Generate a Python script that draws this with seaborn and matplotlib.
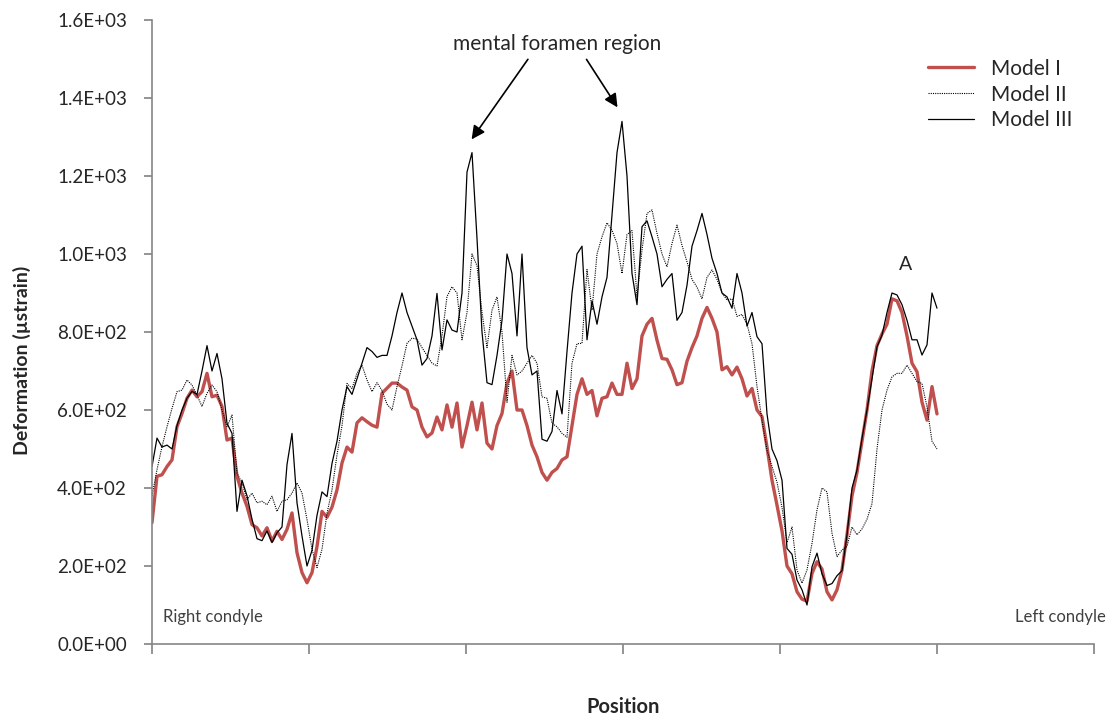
import numpy as np
import pandas as pd
import matplotlib
matplotlib.use("Agg")
import matplotlib.pyplot as plt
import seaborn as sns

# Deformation along the mandible
model_1 = [311, 430, 434, 455, 472, 557, 591, 630, 651, 634, 647, 694, 634, 638, 609, 523, 528, 430, 387, 353,
           306, 298, 277, 298, 264, 289, 268, 294, 336, 234, 183, 157, 183, 250, 340, 325, 351, 395, 464, 505,
           492, 567, 580, 570, 561, 556, 643, 656, 669, 669, 659, 651, 608, 600, 556, 531, 541, 582, 549, 613,
           556, 618, 505, 560, 620, 549, 618, 515, 500, 560, 591, 669, 700, 600, 600, 560, 510, 480, 440, 420,
           440, 450, 472, 480, 560, 640, 680, 640, 650, 585, 630, 634, 669, 640, 640, 720, 655, 680, 790, 820,
           835, 779, 732, 730, 703, 665, 670, 725, 760, 790, 835, 863, 835, 800, 703, 711, 690, 710, 680, 636,
           655, 600, 583, 505, 420, 356, 290, 200, 180, 134, 115, 110, 181, 211, 192, 134, 113, 139, 190, 280,
           380, 440, 520, 600, 700, 765, 795, 820, 885, 880, 850, 790, 720, 698, 620, 574, 660, 590]
model_2 = [380, 447, 506, 557, 604, 647, 651, 677, 664, 638, 609, 643, 664, 647, 600, 557, 587, 438, 413, 370,
           387, 362, 366, 357, 379, 340, 366, 370, 387, 413, 387, 319, 243, 196, 243, 335, 395, 485, 560, 668,
           655, 694, 715, 677, 647, 670, 650, 615, 600, 660, 713, 771, 784, 782, 760, 740, 720, 713, 790, 891,
           916, 900, 780, 850, 1000, 970, 850, 760, 856, 890, 800, 620, 740, 690, 700, 720, 740, 720, 634, 630,
           566, 557, 540, 530, 720, 770, 771, 960, 856, 1000, 1044, 1080, 1061, 1027, 950, 1050, 1060, 891, 1010, 1104,
           1113, 1053, 1000, 967, 1027, 1074, 1022, 980, 935, 915, 885, 940, 959, 935, 900, 882, 885, 840, 845, 820,
           770, 660, 574, 497, 455, 415, 350, 260, 300, 190, 156, 190, 258, 344, 400, 390, 284, 224, 241, 250,
           300, 280, 295, 320, 360, 500, 600, 651, 685, 694, 694, 715, 694, 673, 668, 608, 520, 500]
model_3 = [455, 528, 505, 510, 500, 560, 600, 630, 648, 640, 700, 765, 700, 745, 680, 566, 540, 340, 420, 380,
           320, 270, 265, 290, 260, 285, 300, 460, 540, 362, 277, 200, 240, 330, 390, 378, 463, 520, 600, 660,
           640, 680, 720, 760, 750, 735, 740, 740, 790, 850, 900, 850, 815, 780, 715, 732, 790, 899, 754, 831,
           805, 800, 900, 1210, 1260, 1040, 800, 670, 665, 740, 830, 1000, 950, 790, 1000, 760, 690, 700, 525, 520,
           545, 650, 590, 750, 900, 1000, 1020, 780, 880, 820, 890, 940, 1100, 1260, 1340, 1200, 950, 870, 1070, 1085,
           1044, 1000, 916, 935, 950, 830, 850, 920, 1020, 1060, 1104, 1050, 989, 950, 900, 890, 861, 950, 900, 815,
           850, 788, 770, 590, 500, 470, 420, 245, 230, 164, 139, 100, 198, 233, 180, 150, 155, 175, 188, 280,
           400, 446, 527, 600, 680, 762, 792, 850, 900, 895, 870, 830, 780, 780, 741, 767, 900, 861]
positions = list(range(len(model_1)))
model_names = ["Model I", "Model II", "Model III"]

sns.set_theme(style="white")
plt.rcParams["font.family"] = ["Lato", "DejaVu Sans"]

fig = plt.figure(figsize=(11.09, 7.18), dpi=100)
ax = fig.add_axes([152 / 1109, 74 / 718, 942 / 1109, 624 / 718])

sns.lineplot(x=positions, y=model_1, ax=ax, color="#C0504D", linewidth=2.4, label=model_names[0])
sns.lineplot(x=positions, y=model_2, ax=ax, color="black", linewidth=0.8, linestyle=(0, (1, 1)), label=model_names[1])
sns.lineplot(x=positions, y=model_3, ax=ax, color="black", linewidth=0.9, label=model_names[2])

ax.set_xlim(0, 188.4)
ax.set_ylim(0, 1600)
ax.set_xticks(np.linspace(0, 188.4, 7))
ax.set_xticklabels([])
ax.set_yticks(np.arange(0, 1601, 200))
ax.set_yticklabels([f"{v:.1E}" for v in np.arange(0, 1601, 200)], fontsize=13.5)
ax.tick_params(axis="y", direction="out", length=6, color="#868686", left=True, pad=12)
ax.tick_params(axis="x", direction="out", length=7, color="#868686", bottom=True)
for side in ["top", "right"]:
    ax.spines[side].set_visible(False)
for side in ["left", "bottom"]:
    ax.spines[side].set_color("#868686")
    ax.spines[side].set_linewidth(1.2)

ax.set_xlabel("Position", fontsize=14.5, fontweight="bold")
ax.xaxis.set_label_coords(0.5, -0.085)
ax.set_ylabel("Deformation (µstrain)", fontsize=14, fontweight="bold")
ax.yaxis.set_label_coords(-0.128, 0.455)

ax.legend(loc="upper left", bbox_to_anchor=(0.804, 0.968), frameon=False, fontsize=15,
          handlelength=2.2, labelspacing=0.28)

# annotations
ax.text(81, 1538, "mental foramen region", ha="center", va="center", fontsize=15)
ax.annotate("", xy=(63.6, 1288), xytext=(75.5, 1505),
            arrowprops=dict(arrowstyle="-|>", color="black", lw=1.2, mutation_scale=20))
ax.annotate("", xy=(93.4, 1370), xytext=(86.6, 1505),
            arrowprops=dict(arrowstyle="-|>", color="black", lw=1.2, mutation_scale=20))
ax.text(150.8, 972, "A", ha="center", va="center", fontsize=14)
ax.text(2.2, 68, "Right condyle", ha="left", va="center", fontsize=12, color="#404040")
ax.text(172.6, 68, "Left condyle", ha="left", va="center", fontsize=12, color="#404040")

fig.savefig("out.png", dpi=100)
